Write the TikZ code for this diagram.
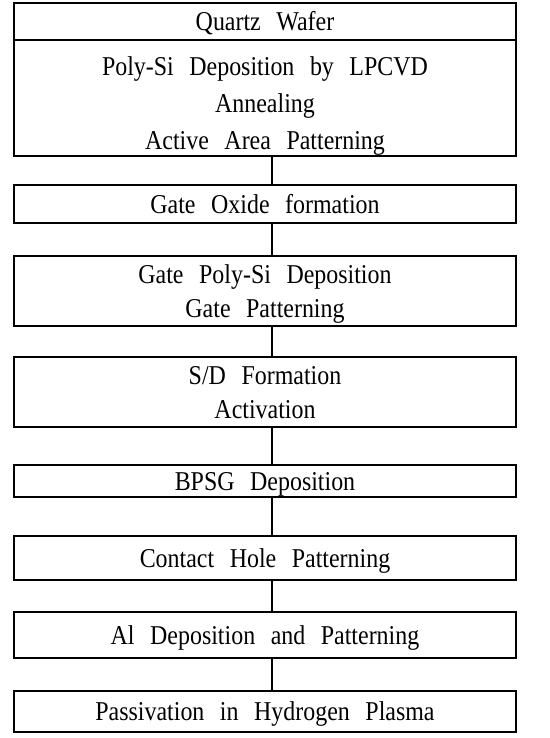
\documentclass[tikz,border=0pt]{standalone}
\usepackage{fontspec}
\setmainfont{Liberation Serif}[FakeStretch=0.88,WordSpace=2.6]
\usepackage{tikz}
\begin{document}
\begin{tikzpicture}[x=0.5pt,y=-0.5pt,
	stepbox/.style={draw,line width=0.6pt,minimum width=251pt,inner sep=0pt,align=center,
		text height=9pt,text depth=0pt,font=\fontsize{13.6}{17}\selectfont},
	link/.style={line width=0.6pt}]
	\useasboundingbox (0,0) rectangle (550,738);
	\node[stepbox,minimum height=18.5pt] (wafer) at (265,21.5) {Quartz Wafer};
	\node[stepbox,minimum height=58pt,text height=51pt,font=\fontsize{13.6}{18.5}\selectfont] (polysi) at (265,98) {Poly-Si Deposition by LPCVD\\Annealing\\Active Area Patterning};
	\node[stepbox,minimum height=19pt] (oxide) at (265,204) {Gate Oxide formation};
	\node[stepbox,minimum height=35pt,text height=26pt] (gate) at (265,291) {Gate Poly-Si Deposition\\Gate Patterning};
	\node[stepbox,minimum height=35pt,text height=26pt] (sd) at (265,392) {S/D Formation\\Activation};
	\node[stepbox,minimum height=16pt] (bpsg) at (265,481) {BPSG Deposition};
	\node[stepbox,minimum height=22pt] (contact) at (265,558) {Contact Hole Patterning};
	\node[stepbox,minimum height=23pt] (metal) at (265,635) {Al Deposition and Patterning};
	\node[stepbox,minimum height=20.5pt] (passiv) at (265,711.5) {Passivation in Hydrogen Plasma};
	
	\draw[link] ([xshift=3.5pt]polysi.south) -- ([xshift=3.5pt]oxide.north);
	\draw[link] ([xshift=3.5pt]oxide.south) -- ([xshift=3.5pt]gate.north);
	\draw[link] ([xshift=3.5pt]gate.south) -- ([xshift=3.5pt]sd.north);
	\draw[link] ([xshift=3.5pt]sd.south) -- ([xshift=3.5pt]bpsg.north);
	\draw[link] ([xshift=3.5pt]bpsg.south) -- ([xshift=3.5pt]contact.north);
	\draw[link] ([xshift=3.5pt]contact.south) -- ([xshift=3.5pt]metal.north);
	\draw[link] ([xshift=3.5pt]metal.south) -- ([xshift=3.5pt]passiv.north);
\end{tikzpicture}
\end{document}
